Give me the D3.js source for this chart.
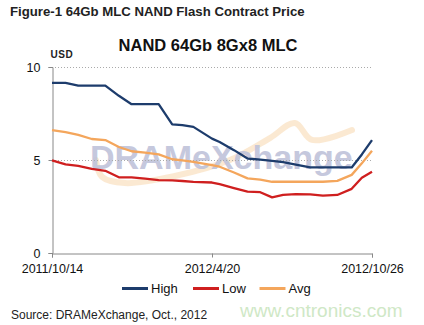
<!DOCTYPE html>
<html>
<head>
<meta charset="utf-8">
<script src="https://cdn.jsdelivr.net/npm/d3@7"></script>
<style>
  html, body { margin: 0; padding: 0; background: #fff; }
  svg { display: block; font-family: "Liberation Sans", Arial, sans-serif; }
</style>
</head>
<body>
<svg id="chart" width="424" height="325"></svg>
<script>
// ---- data ----
const dates = ["2011-10-14","2011-10-30","2011-11-14","2011-11-30","2011-12-16","2012-01-01",
  "2012-01-16","2012-02-01","2012-02-17","2012-03-04","2012-03-16","2012-03-29","2012-04-20",
  "2012-04-29","2012-05-16","2012-06-01","2012-06-16","2012-06-30","2012-07-13","2012-07-28",
  "2012-08-14","2012-08-29","2012-09-15","2012-10-02","2012-10-14","2012-10-26"];
const high = [9.15,9.15,9.0,9.0,9.0,8.45,8.0,8.0,8.0,6.92,6.88,6.78,6.15,5.97,5.53,5.08,5.02,
  4.95,4.88,4.75,4.6,4.6,4.6,4.6,5.3,6.07];
const low  = [4.98,4.77,4.68,4.52,4.42,4.07,4.07,4.0,3.92,3.9,3.87,3.82,3.79,3.7,3.49,3.3,3.27,
  2.99,3.12,3.17,3.15,3.08,3.12,3.45,4.05,4.37];
const avg  = [6.61,6.5,6.35,6.13,6.07,5.7,5.47,5.4,5.3,5.04,4.98,4.9,4.73,4.64,4.33,4.01,3.95,
  3.83,3.83,3.83,3.83,3.83,3.88,4.2,4.82,5.5];
const seriesNames = ["High","Low","Avg"];
const xTickLabels = ["2011/10/14","2012/4/20","2012/10/26"];
const yTicks = [0,5,10];

const colors = { High: "#1d3c6c", Low: "#cf1f1f", Avg: "#f4a65c" };
const parse = d3.timeParse("%Y-%m-%d");
const parseTick = d3.timeParse("%Y/%m/%d");

const svg = d3.select("#chart");
const L = 52, R = 372, T = 67, B = 253;

const x = d3.scaleTime().domain([parse(dates[0]), parse(dates[dates.length-1])]).range([L, R]);
const y = d3.scaleLinear().domain([0, 10]).range([B, T]);

// titles
svg.append("text").attr("x", 10).attr("y", 16)
  .attr("font-size", 13.2).attr("font-weight", "bold").attr("fill", "#222")
  .text("Figure-1 64Gb MLC NAND Flash Contract Price");
svg.append("text").attr("x", 208).attr("y", 51).attr("text-anchor", "middle")
  .attr("font-size", 16.5).attr("font-weight", "bold").attr("fill", "#111")
  .text("NAND 64Gb 8Gx8 MLC");
svg.append("text").attr("x", 50.5).attr("y", 57.5)
  .attr("font-size", 10).attr("font-weight", "bold").attr("fill", "#222")
  .attr("letter-spacing", 0.6)
  .text("USD");

// watermark (logo decoration, placed in plot-relative fractions)
const wm = svg.append("g").attr("class", "watermark");
const swoosh = [[0.1375,0.5],[0.156,0.59],[0.228,0.624],[0.384,0.586],[0.556,0.5],
  [0.681,0.382],[0.759,0.301],[0.8125,0.392],[0.9375,0.339]];
wm.append("path")
  .attr("d", d3.line().curve(d3.curveCatmullRom)(swoosh.map(p => [L + p[0]*(R-L), T + p[1]*(B-T)])))
  .attr("fill", "none").attr("stroke", "#f8d3a6").attr("stroke-width", 6)
  .attr("stroke-linecap", "round").attr("opacity", 0.5);
wm.append("text").attr("x", 90).attr("y", 168.5)
  .attr("font-size", 34).attr("font-weight", "bold").attr("fill", "#bfc3da")
  .attr("opacity", 0.9)
  .text("DRAMeXchange");

// gridlines
svg.append("g").selectAll("line").data(yTicks.filter(d => d > 0)).join("line")
  .attr("x1", L).attr("x2", R).attr("y1", d => y(d) + 0.5).attr("y2", d => y(d) + 0.5)
  .attr("stroke", "#aaa").attr("stroke-width", 1).attr("stroke-dasharray", "1,2");

// y axis
const yAxis = svg.append("g").attr("transform", `translate(${L + 0.5},0)`)
  .call(d3.axisLeft(y).tickValues(yTicks).tickSize(4).tickPadding(8).tickFormat(d3.format("d")));
yAxis.select(".domain").attr("stroke", "#888");
yAxis.selectAll(".tick line").attr("stroke", "#888");
yAxis.selectAll("text").attr("font-size", 12.5).attr("fill", "#111")
  .attr("font-family", "Liberation Sans, Arial, sans-serif");

// x axis
const xAxis = svg.append("g").attr("transform", `translate(0,${B + 0.5})`)
  .call(d3.axisBottom(x).tickValues(xTickLabels.map(parseTick)).tickSize(4).tickPadding(7)
    .tickFormat((d, i) => xTickLabels[i]));
xAxis.select(".domain").attr("stroke", "#888");
xAxis.selectAll(".tick line").attr("stroke", "#888");
xAxis.selectAll("text").attr("font-size", 12.5).attr("fill", "#111")
  .attr("font-family", "Liberation Sans, Arial, sans-serif");

// lines
const seriesData = { High: high, Low: low, Avg: avg };
const line = d3.line().x((d, i) => x(parse(dates[i]))).y(d => y(d));
svg.append("g").selectAll("path").data(seriesNames).join("path")
  .attr("d", n => line(seriesData[n]))
  .attr("fill", "none").attr("stroke", n => colors[n]).attr("stroke-width", 2.3)
  .attr("stroke-linejoin", "round");

// legend
const legX = [122, 193, 259.5];
const leg = svg.append("g").selectAll("g").data(seriesNames).join("g")
  .attr("transform", (d, i) => `translate(${legX[i]},288.5)`);
leg.append("line").attr("x1", 0).attr("x2", 26).attr("stroke", n => colors[n]).attr("stroke-width", 3);
leg.append("text").attr("x", 29).attr("y", 4.5).attr("font-size", 13).attr("fill", "#111").text(n => n);

// source + site watermark
svg.append("text").attr("x", 11).attr("y", 319).attr("font-size", 12).attr("fill", "#222")
  .text("Source: DRAMeXchange, Oct., 2012");
svg.append("text").attr("x", 240).attr("y", 317).attr("font-size", 19).attr("fill", "#cfe8c6")
  .text("www.cntronics.com");
</script>
</body>
</html>
